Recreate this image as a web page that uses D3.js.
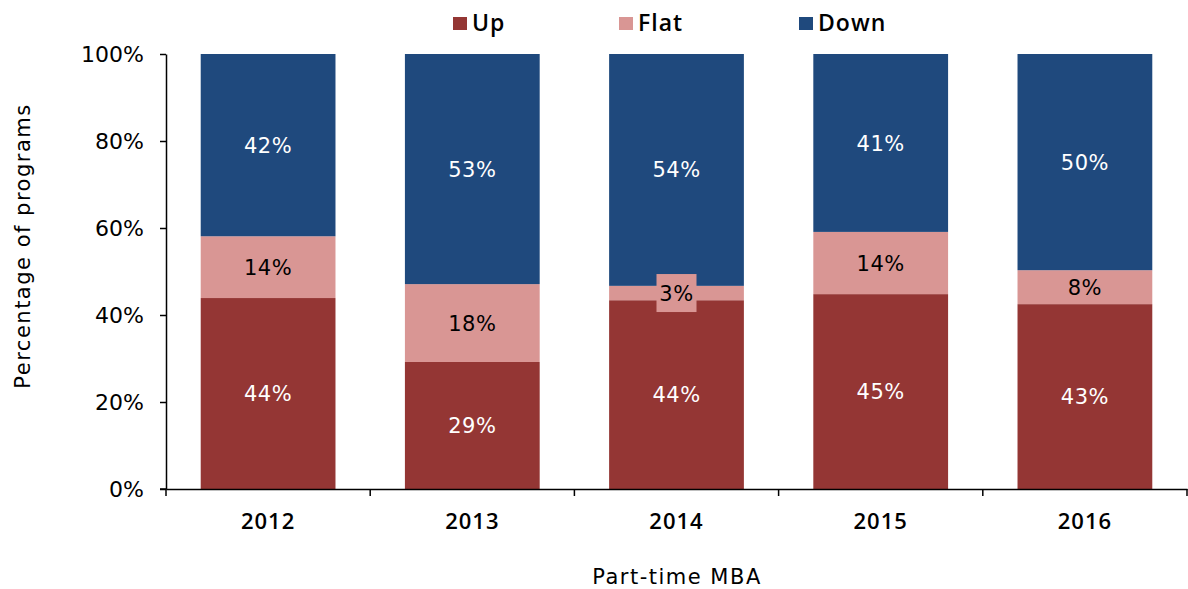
<!DOCTYPE html>
<html><head><meta charset="utf-8">
<script src="https://cdn.jsdelivr.net/npm/d3@7"></script>
<style>body{margin:0;background:#fff}svg{display:block}text{font-family:"DejaVu Sans",sans-serif}</style>
</head><body><svg id="c" width="1188" height="589"></svg>
<script>
const years = ["2012","2013","2014","2015","2016"];
const up   = [43.9, 29.2, 43.4, 44.8, 42.5];
const flat = [14.2, 17.9, 3.3, 14.3, 7.8];
const down = [41.9, 52.9, 53.3, 40.9, 49.7];
const upLabels   = ["44%","29%","44%","45%","43%"];
const flatLabels = ["14%","18%","3%","14%","8%"];
const downLabels = ["42%","53%","54%","41%","50%"];
const yTicks = [0,20,40,60,80,100];
const seriesNames = ["Up","Flat","Down"];
const colors = ["#943634","#D99694","#1F497D"];
const labelColors = ["#fff","#000","#fff"];

const FONT = "'DejaVu Sans',sans-serif";
const FONT2 = "'Open Sans',sans-serif";
const svg = d3.select("#c");
const pL = 166, pR = 1187, pT = 54, pB = 489;
const x = d3.scaleBand().domain(years).range([pL,pR]).paddingInner(0.34).paddingOuter(0.17);
const y = d3.scaleLinear().domain([0,100]).range([pB,pT]);

const table = years.map((yr,i)=>({year:yr, Up:up[i], Flat:flat[i], Down:down[i]}));
const stack = d3.stack().keys(seriesNames)(table);
const labels = [upLabels, flatLabels, downLabels];

stack.forEach((s,si)=>{
  svg.append("g").selectAll("rect").data(s).join("rect")
    .attr("x", d=>x(d.data.year)).attr("width", x.bandwidth())
    .attr("y", d=>y(d[1])).attr("height", d=>y(d[0])-y(d[1]))
    .attr("fill", colors[si]);
});
function labelW(t){ return t.length*13+14; }
stack.forEach((s,si)=>{
  s.forEach((d,i)=>{
    const cx = x(d.data.year)+x.bandwidth()/2, cy = (y(d[0])+y(d[1]))/2;
    const g = svg.append("g");
    if (si===1 && (y(d[0])-y(d[1])) < 30) {
      const w = labelW(labels[si][i]);
      g.append("rect").attr("x",cx-w/2).attr("y",cy-19).attr("width",w).attr("height",38).attr("fill",colors[1]);
    }
    g.append("text").attr("x",cx).attr("y",cy).attr("dy","0.36em").attr("text-anchor","middle")
      .attr("font-size",21).attr("letter-spacing",0.5).attr("fill",labelColors[si]).text(labels[si][i]);
  });
});

const ya = svg.append("g").attr("transform",`translate(${pL},0)`)
  .call(d3.axisLeft(y).tickValues(yTicks).tickFormat(d=>d+"%").tickSize(6).tickSizeOuter(0));
ya.select(".domain").attr("stroke","#000").attr("stroke-width",1.5);
ya.selectAll(".tick line").attr("stroke","#000").attr("stroke-width",1.5);
ya.selectAll("text").attr("font-size",22).attr("fill","#000").attr("x",-22).style("font-family",FONT);

const xa = svg.append("g").attr("transform",`translate(0,${pB})`)
  .call(d3.axisBottom(x).tickSize(0).tickSizeOuter(0));
xa.select(".domain").attr("stroke","#000").attr("stroke-width",1.5);
xa.selectAll("text").attr("font-size",22).attr("fill","#000").attr("font-weight",600).attr("letter-spacing",1)
  .attr("dy",0).attr("y",40).style("font-family",FONT2);
const step = x.step();
const bounds = years.map((_,i)=>pL + i*step).concat([pR]);
xa.selectAll(".sep").data(bounds).join("line").attr("class","sep")
  .attr("x1",d=>d).attr("x2",d=>d).attr("y1",0).attr("y2",7).attr("stroke","#000").attr("stroke-width",1.5);
svg.append("line").attr("x1",pL-6).attr("x2",pL).attr("y1",pB).attr("y2",pB).attr("stroke","#000").attr("stroke-width",1.5);

svg.append("text").attr("transform","translate(30,246) rotate(-90)").attr("text-anchor","middle")
  .attr("font-size",21).attr("letter-spacing",1.5).attr("fill","#000").text("Percentage of programs");
svg.append("text").attr("x",677).attr("y",584).attr("text-anchor","middle")
  .attr("font-size",21).attr("letter-spacing",1.5).attr("fill","#000").text("Part-time MBA");

const legX = [453, 619, 799];
seriesNames.forEach((n,i)=>{
  svg.append("rect").attr("x",legX[i]).attr("y",17).attr("width",14).attr("height",13).attr("fill",colors[i]);
  svg.append("text").attr("x",legX[i]+19).attr("y",23).attr("dy","0.36em").attr("font-size",23)
    .attr("font-weight",600).attr("letter-spacing",1).style("font-family",FONT2).attr("fill","#000").text(n);
});
</script></body></html>
